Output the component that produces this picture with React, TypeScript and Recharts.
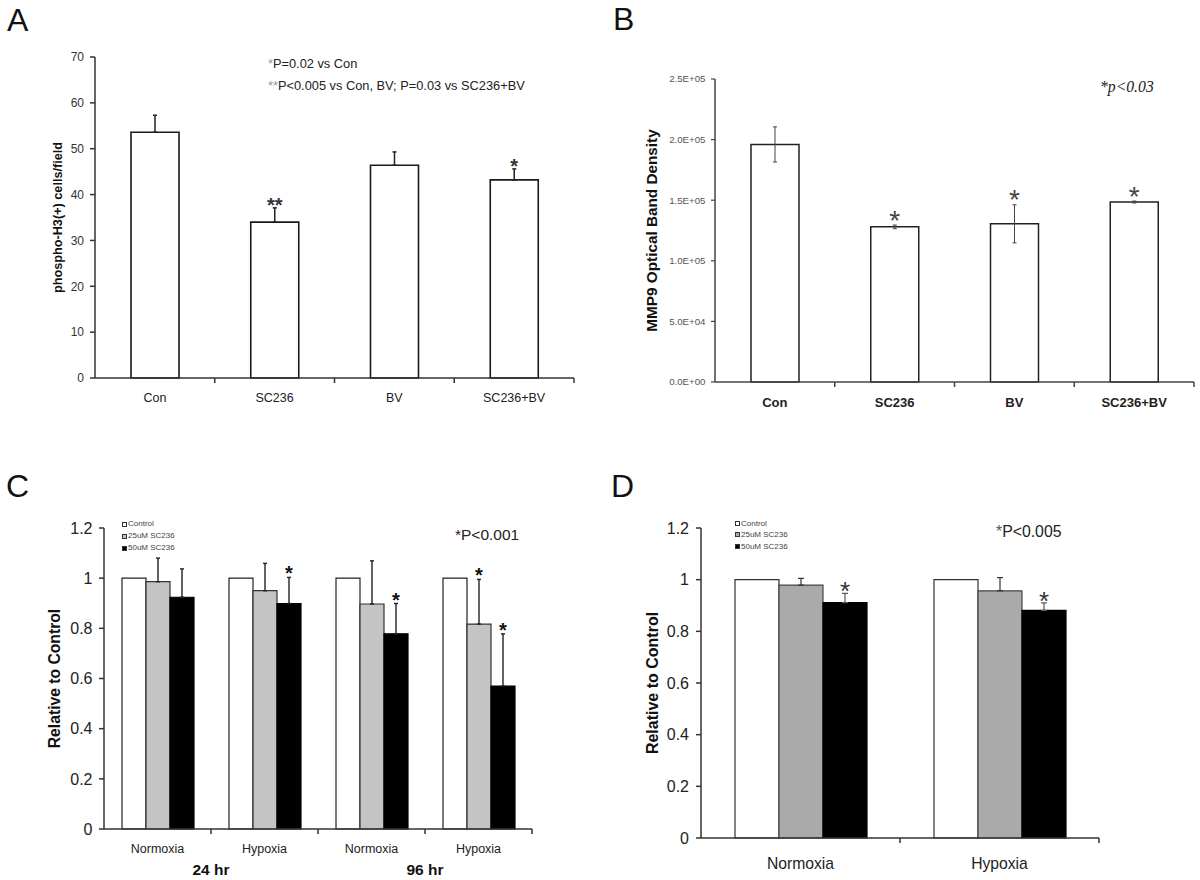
import React from "react";
import { BarChart, Bar, XAxis, YAxis, ErrorBar, LabelList, Legend } from "recharts";

const SANS = "'Liberation Sans', Arial, Helvetica, sans-serif";

// Panel A
const aCategories = ["Con", "SC236", "BV", "SC236+BV"];
const aMeans = [53.6, 34.0, 46.4, 43.2];
const aErrUp = [3.7, 3.1, 2.9, 2.4];
const aStars = ["", "**", "", "*"];
const aTicks = [0, 10, 20, 30, 40, 50, 60, 70];

// Panel B
const bCategories = ["Con", "SC236", "BV", "SC236+BV"];
const bMeans = [196000, 128000, 130500, 148500];
const bErr = [14500, 1500, 15700, 800];
const bStars = ["", "*", "*", "*"];
const bTicks = [0, 50000, 100000, 150000, 200000, 250000];

// Panel C
const cGroups = ["Normoxia", "Hypoxia", "Normoxia", "Hypoxia"];
const cPeriods = ["24 hr", "", "96 hr", ""];
const cControl = [1, 1, 1, 1];
const c25 = [0.986, 0.95, 0.897, 0.817];
const c25Err = [0.094, 0.109, 0.172, 0.178];
const c25Stars = ["", "", "", "*"];
const c50 = [0.924, 0.899, 0.778, 0.57];
const c50Err = [0.113, 0.104, 0.121, 0.208];
const c50Stars = ["", "*", "*", "*"];

// Panel D
const dGroups = ["Normoxia", "Hypoxia"];
const dControl = [1, 1];
const d25 = [0.979, 0.957];
const d25Err = [0.026, 0.051];
const d50 = [0.911, 0.881];
const d50Err = [0.036, 0.029];
const d50Stars = ["*", "*"];

const relTicks = [0, 0.2, 0.4, 0.6, 0.8, 1, 1.2];
const seriesNames = ["Control", "25uM SC236", "50uM SC236"];

const aRows = aCategories.map((name, i) => ({ key: `a${i}`, name, mean: aMeans[i], err: [0, aErrUp[i]], star: aStars[i] }));
const bRows = bCategories.map((name, i) => ({ key: `b${i}`, name, mean: bMeans[i], err: bErr[i], star: bStars[i] }));
const cRows = cGroups.map((name, i) => ({
  key: `c${i}`,
  name,
  ctrl: cControl[i],
  low: c25[i],
  lowErr: [0, c25Err[i]],
  lowStar: c25Stars[i],
  high: c50[i],
  highErr: [0, c50Err[i]],
  highStar: c50Stars[i],
}));
const dRows = dGroups.map((name, i) => ({
  key: `d${i}`,
  name,
  ctrl: dControl[i],
  low: d25[i],
  lowErr: [0, d25Err[i]],
  high: d50[i],
  highErr: [0, d50Err[i]],
  highStar: d50Stars[i],
}));

const sciFormat = (v: number) => {
  if (v === 0) return "0.0E+00";
  const exp = Math.floor(Math.log10(v));
  const mant = v / Math.pow(10, exp);
  return `${mant.toFixed(1)}E+${String(exp).padStart(2, "0")}`;
};

// star placed above the error bar top, using the bar's own pixel scale
const starContent = (rows: any[], valKey: string, errKey: string, opts: any) => (props: any) => {
  const { viewBox, value, index } = props;
  if (!value || !viewBox) return null;
  const row = rows[index];
  const e = row[errKey];
  const up = Array.isArray(e) ? e[1] : e;
  const h = Math.abs(viewBox.height);
  const top = Math.min(viewBox.y, viewBox.y + viewBox.height);
  const errTop = top - (up * h) / row[valKey];
  return (
    <text
      x={viewBox.x + viewBox.width / 2}
      y={errTop + opts.dy}
      textAnchor="middle"
      fontFamily={SANS}
      fontSize={opts.size}
      fontWeight={opts.weight || "normal"}
      fill={opts.color || "#222"}
    >
      {value}
    </text>
  );
};

// category tick: label at centre, tick mark at the right edge of the band
const catTick = (opts: any) => (props: any) => {
  const { x, y, payload } = props;
  const half = opts.band / 2;
  const idx = payload.index;
  const label = opts.labels && idx !== undefined ? opts.labels[idx] : payload.value;
  const sub = opts.sub && idx !== undefined ? opts.sub[idx] : "";
  return (
    <g>
      <line x1={x + half} y1={y} x2={x + half} y2={y + 5} stroke={opts.stroke} strokeWidth={1.5} />
      <text x={x} y={y + opts.dy} textAnchor="middle" fontFamily={SANS} fontSize={opts.size} fontWeight={opts.weight || "normal"} fill="#222">
        {label}
      </text>
      {sub ? (
        <text x={x + half} y={y + opts.subDy} textAnchor="middle" fontFamily={SANS} fontSize={opts.subSize} fontWeight="bold" fill="#111">
          {sub}
        </text>
      ) : null}
    </g>
  );
};

const yLabel = (text: string, dist: number, size: number) => (props: any) => {
  const vb = props.viewBox;
  const cx = vb.x + vb.width - dist;
  const cy = vb.y + vb.height / 2;
  return (
    <text x={cx} y={cy} transform={`rotate(-90 ${cx} ${cy})`} textAnchor="middle" dominantBaseline="central" fontFamily={SANS} fontWeight="bold" fontSize={size} fill="#111">
      {text}
    </text>
  );
};

const legendContent = (lh: number) => (props: any) => {
  const items = [...(props.payload || [])].sort(
    (p: any, q: any) => seriesNames.indexOf(p.value) - seriesNames.indexOf(q.value)
  );
  return (
    <div style={{ fontFamily: SANS, fontSize: 8, color: "#444", lineHeight: `${lh}px`, textAlign: "left" }}>
      {items.map((p: any) => (
        <div key={p.value} style={{ display: "flex", alignItems: "center", whiteSpace: "nowrap" }}>
          <span style={{ display: "inline-block", width: 3, height: 3, border: "1px solid #333", background: p.color, marginRight: 1 }} />
          {p.value}
        </div>
      ))}
    </div>
  );
};

const PanelA = () => (
  <BarChart width={600} height={430} data={aRows} margin={{ top: 57, right: 26, bottom: 12, left: 35 }}>
    <XAxis dataKey="key" height={40} interval={0} tickSize={0} tickMargin={0} tickLine={false} axisLine={{ stroke: "#333", strokeWidth: 1.5 }}
      tick={catTick({ band: 119.75, dy: 24, size: 12.5, stroke: "#333", labels: aCategories })} />
    <YAxis domain={[0, 70]} ticks={aTicks} width={60} interval={0} tickSize={5} tickMargin={6}
      axisLine={{ stroke: "#333", strokeWidth: 1.5 }} tickLine={{ stroke: "#333", strokeWidth: 1.5 }}
      tick={{ fill: "#333", fontSize: 12, fontFamily: SANS }}
      label={{ content: yLabel("phospho-H3(+) cells/field", 37.5, 12.7) }} />
    <Bar dataKey="mean" fill="#fff" stroke="#1a1a1a" strokeWidth={1.6} barSize={48} isAnimationActive={false}>
      <ErrorBar dataKey="err" width={2} stroke="#222" strokeWidth={1.5} isAnimationActive={false} />
      <LabelList dataKey="star" content={starContent(aRows, "mean", "err", { dy: 4, size: 20, weight: "bold", color: "#333" })} />
    </Bar>
  </BarChart>
);

const PanelB = () => (
  <BarChart width={600} height={430} data={bRows} margin={{ top: 79, right: 6, bottom: 8, left: 55 }}>
    <XAxis dataKey="key" height={40} interval={0} tickSize={0} tickMargin={0} tickLine={false} axisLine={{ stroke: "#444", strokeWidth: 1.5 }}
      tick={catTick({ band: 119.75, dy: 25, size: 13, weight: "bold", stroke: "#444", labels: bCategories })} />
    <YAxis domain={[0, 250000]} ticks={bTicks} width={60} interval={0} tickSize={4} tickMargin={5.5}
      axisLine={{ stroke: "#444", strokeWidth: 1.5 }} tickLine={{ stroke: "#444", strokeWidth: 1.2 }}
      tick={{ fill: "#555", fontSize: 9.7, fontFamily: SANS }} tickFormatter={sciFormat}
      label={{ content: yLabel("MMP9 Optical Band Density", 63.5, 15.3) }} />
    <Bar dataKey="mean" fill="#fff" stroke="#222" strokeWidth={1.5} barSize={48} isAnimationActive={false}>
      <ErrorBar dataKey="err" width={2} stroke="#444" strokeWidth={1} isAnimationActive={false} />
      <LabelList dataKey="star" content={starContent(bRows, "mean", "err", { dy: 4.5, size: 28, color: "#444" })} />
    </Bar>
  </BarChart>
);

const PanelC = () => (
  <BarChart width={600} height={440} data={cRows} barGap={0} margin={{ top: 88, right: 68, bottom: 1, left: 44 }}>
    <XAxis dataKey="key" height={50} interval={0} tickSize={0} tickMargin={0} tickLine={false} axisLine={{ stroke: "#333", strokeWidth: 1.5 }}
      tick={catTick({ band: 107, dy: 23.5, size: 12.5, stroke: "#333", labels: cGroups, sub: cPeriods, subDy: 46, subSize: 15.5 })} />
    <YAxis domain={[0, 1.2]} ticks={relTicks} width={60} interval={0} tickSize={5} tickMargin={6.5}
      axisLine={{ stroke: "#333", strokeWidth: 1.5 }} tickLine={{ stroke: "#333", strokeWidth: 1.5 }}
      tick={{ fill: "#222", fontSize: 16, fontFamily: SANS }}
      label={{ content: yLabel("Relative to Control", 50, 15.7) }} />
    <Legend layout="vertical" align="center" verticalAlign="middle" wrapperStyle={{ left: 122, top: 78, width: "auto" }} content={legendContent(12)} />
    <Bar dataKey="ctrl" name={seriesNames[0]} fill="#ffffff" stroke="#222" strokeWidth={1.2} barSize={24} isAnimationActive={false} />
    <Bar dataKey="low" name={seriesNames[1]} fill="#c4c4c4" stroke="#333" strokeWidth={1.2} barSize={24} isAnimationActive={false}>
      <ErrorBar dataKey="lowErr" width={2} stroke="#222" strokeWidth={1.4} isAnimationActive={false} />
      <LabelList dataKey="lowStar" content={starContent(cRows, "low", "lowErr", { dy: 3, size: 20, weight: "bold", color: "#111" })} />
    </Bar>
    <Bar dataKey="high" name={seriesNames[2]} fill="#000000" stroke="#000" strokeWidth={1.2} barSize={24} isAnimationActive={false}>
      <ErrorBar dataKey="highErr" width={2} stroke="#222" strokeWidth={1.4} isAnimationActive={false} />
      <LabelList dataKey="highStar" content={starContent(cRows, "high", "highErr", { dy: 3, size: 20, weight: "bold", color: "#111" })} />
    </Bar>
  </BarChart>
);

const PanelD = () => (
  <BarChart width={600} height={440} data={dRows} barGap={0} margin={{ top: 88, right: 101, bottom: 2, left: 41 }}>
    <XAxis dataKey="key" height={40} interval={0} tickSize={0} tickMargin={0} tickLine={false} axisLine={{ stroke: "#333", strokeWidth: 1.5 }}
      tick={catTick({ band: 199, dy: 30.5, size: 15.7, stroke: "#333", labels: dGroups })} />
    <YAxis domain={[0, 1.2]} ticks={relTicks} width={60} interval={0} tickSize={5} tickMargin={7}
      axisLine={{ stroke: "#333", strokeWidth: 1.5 }} tickLine={{ stroke: "#333", strokeWidth: 1.5 }}
      tick={{ fill: "#222", fontSize: 16, fontFamily: SANS }}
      label={{ content: yLabel("Relative to Control", 49, 16) }} />
    <Legend layout="vertical" align="center" verticalAlign="middle" wrapperStyle={{ left: 135, top: 78, width: "auto" }} content={legendContent(11.3)} />
    <Bar dataKey="ctrl" name={seriesNames[0]} fill="#ffffff" stroke="#333" strokeWidth={1.2} barSize={44} isAnimationActive={false} />
    <Bar dataKey="low" name={seriesNames[1]} fill="#aaaaaa" stroke="#444" strokeWidth={1.2} barSize={44} isAnimationActive={false}>
      <ErrorBar dataKey="lowErr" width={3} stroke="#333" strokeWidth={1.2} isAnimationActive={false} />
    </Bar>
    <Bar dataKey="high" name={seriesNames[2]} fill="#000000" stroke="#000" strokeWidth={1.2} barSize={44} isAnimationActive={false}>
      <ErrorBar dataKey="highErr" width={3} stroke="#555" strokeWidth={1.2} isAnimationActive={false} />
      <LabelList dataKey="highStar" content={starContent(dRows, "high", "highErr", { dy: 7, size: 26, color: "#333" })} />
    </Bar>
  </BarChart>
);

export default function App() {
  return (
    <div style={{ position: "absolute", left: 0, top: 0, width: 1200, height: 880, background: "#fff", overflow: "hidden" }}>
      <div style={{ position: "absolute", left: 0, top: 0 }}>
        <PanelA />
      </div>
      <div style={{ position: "absolute", left: 600, top: 0 }}>
        <PanelB />
      </div>
      <div style={{ position: "absolute", left: 0, top: 440 }}>
        <PanelC />
      </div>
      <div style={{ position: "absolute", left: 600, top: 440 }}>
        <PanelD />
      </div>
      <svg width={1200} height={880} style={{ position: "absolute", left: 0, top: 0, pointerEvents: "none" }}>
        <g fontFamily={SANS} fontSize={32} fill="#111">
          <text x={7} y={30.5}>A</text>
          <text x={613} y={30}>B</text>
          <text x={6} y={496.5}>C</text>
          <text x={611} y={497}>D</text>
        </g>
        <g fontFamily={SANS} fill="#222">
          <text x={268} y={68} fontSize={12.8}>
            <tspan fill="#999">*</tspan>P=0.02 vs Con
          </text>
          <text x={268} y={90} fontSize={12.8}>
            <tspan fill="#999">**</tspan>P&lt;0.005 vs Con, BV; P=0.03 vs SC236+BV
          </text>
          <text x={455} y={540} fontSize={15.5}>*P&lt;0.001</text>
          <text x={996} y={536.5} fontSize={15.8}>
            <tspan fill="#555">*</tspan>P&lt;0.005
          </text>
        </g>
        <text x={1100} y={91.5} fontFamily="'Liberation Serif', 'Times New Roman', serif" fontStyle="italic" fontSize={15.7} fill="#222">
          *p&lt;0.03
        </text>
      </svg>
    </div>
  );
}
